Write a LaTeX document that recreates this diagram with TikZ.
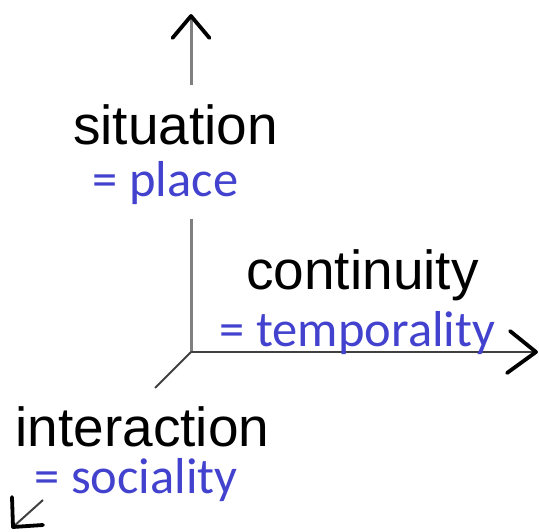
\documentclass[tikz,border=0pt]{standalone}
\usepackage{fontspec}
\setmainfont{Liberation Sans}
\newfontfamily\calib{Carlito}
\definecolor{eqblue}{RGB}{66,66,206}
\definecolor{axgray}{RGB}{128,128,128}
\definecolor{axdark}{RGB}{64,64,64}
\begin{document}
\begin{tikzpicture}[x=1pt,y=-1pt,
  dimlabel/.style={inner sep=0pt,anchor=base,text=black,font=\fontsize{55}{60}\selectfont},
  eqlabel/.style={inner sep=0pt,anchor=base,text=eqblue,font=\calib\fontsize{50.5}{55}\selectfont},
  vaxis/.style={draw=axgray,line width=3pt},
  haxis/.style={draw=axdark,line width=2pt},
  daxis/.style={draw=axdark,line width=2pt},
  headmark/.style={draw=black,line width=3.8pt,line cap=round,line join=round}]
\useasboundingbox (0,0) rectangle (539,532);
% axis points
\coordinate (O) at (191,352);
\coordinate (vgap1) at (191,219);
\coordinate (vgap2) at (191,85);
\coordinate (vtip) at (191,16);
\coordinate (va1) at (172.5,38);
\coordinate (va2) at (209.5,38);
\coordinate (htip) at (536,352);
\coordinate (ha1) at (510,331);
\coordinate (ha2) at (507,373);
\coordinate (dgap1) at (155,388);
\coordinate (dgap2) at (43,500);
\coordinate (dtip) at (13,527);
\coordinate (da1) at (12,497);
\coordinate (da2) at (43,525);
% axes
\draw[vaxis] (O) -- (vgap1);
\draw[vaxis] (vgap2) -- (vtip);
\draw[haxis] (O) -- (htip);
\draw[daxis] (O) -- (dgap1);
\draw[daxis] (dgap2) -- (dtip);
% arrowheads
\draw[headmark] (va1) -- (vtip) -- (va2);
\draw[headmark] (ha1) -- (htip) -- (ha2);
\draw[headmark] (da1) -- (dtip) -- (da2);
% labels
\node[dimlabel] (sit) at (175.5,145) {situation};
\node[eqlabel] (place) at (165.5,197) {= place};
\node[dimlabel] (cont) at (362.5,290) {continuity};
\node[eqlabel] (temp) at (357.5,346) {= temporality};
\node[dimlabel] (inter) at (142.5,446) {interaction};
\node[eqlabel] (soc) at (136,493) {= sociality};
\end{tikzpicture}
\end{document}
